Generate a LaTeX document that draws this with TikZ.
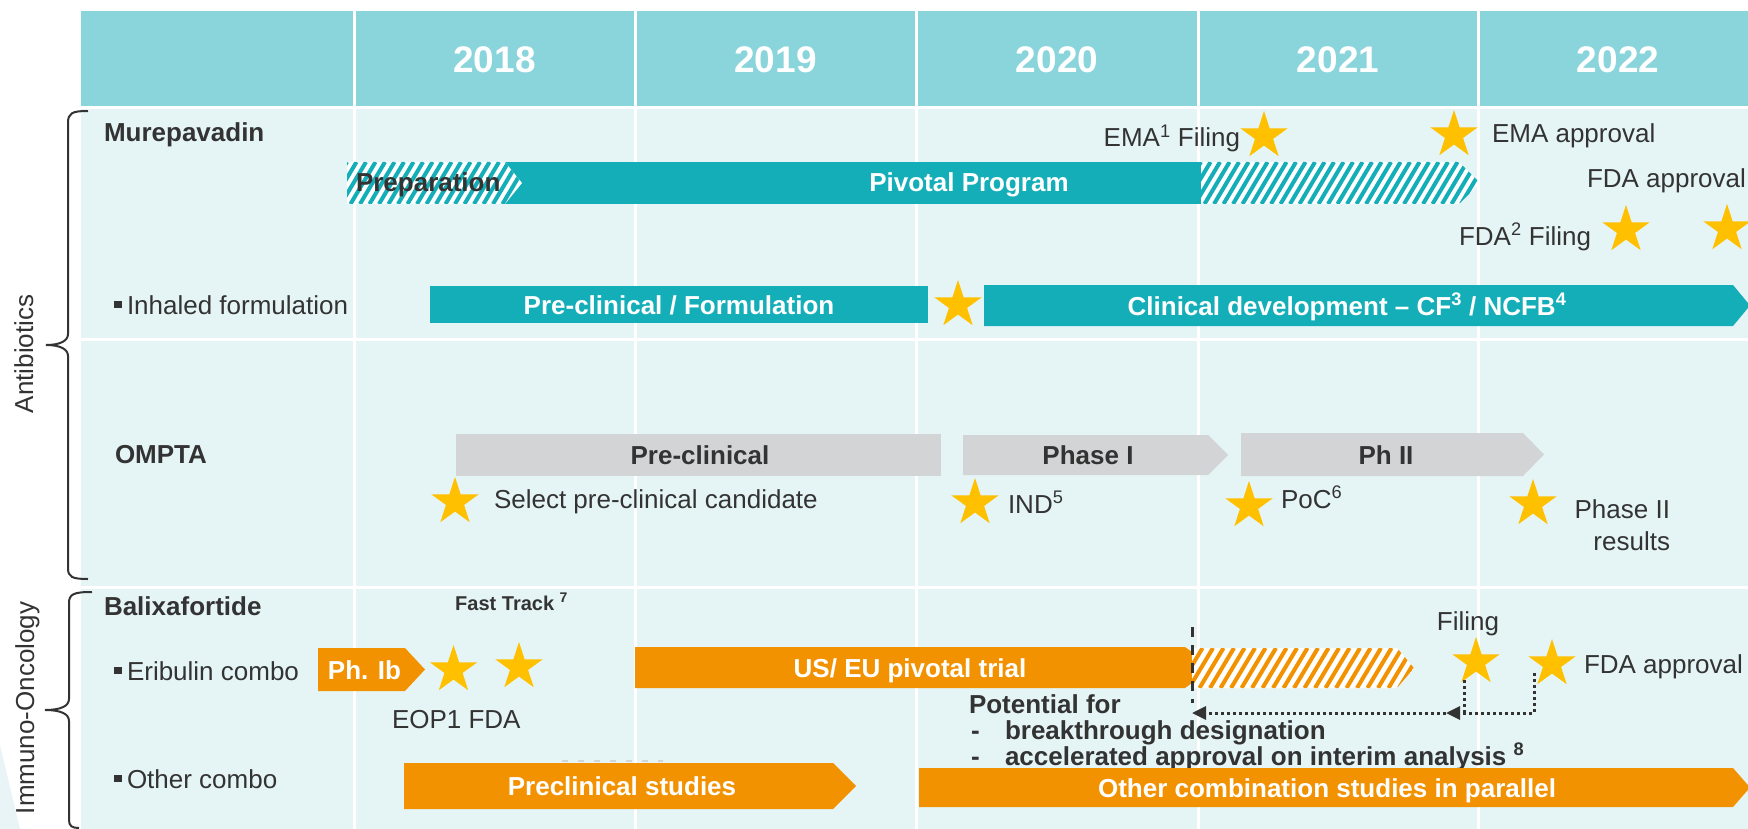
\documentclass[tikz,border=0pt]{standalone}
\usepackage{fontspec}
\setmainfont{Liberation Sans}
\usetikzlibrary{shapes.geometric,arrows.meta}
\definecolor{hdr}{HTML}{89D5DB}
\definecolor{bodybg}{HTML}{E5F5F6}
\definecolor{tealbar}{HTML}{14AEB9}
\definecolor{graybar}{HTML}{D3D4D6}
\definecolor{orangebar}{HTML}{F39200}
\definecolor{gold}{HTML}{FFC000}
\definecolor{dk}{HTML}{333333}
\definecolor{faint}{HTML}{E9F4F7}
\tikzset{
 txt/.style={inner sep=0pt, outer sep=0pt, text=dk, font=\fontsize{26}{30}\selectfont},
 txtb/.style={inner sep=0pt, outer sep=0pt, text=dk, font=\fontsize{26}{30}\selectfont\bfseries},
 bartxt/.style={inner sep=0pt, text=white, font=\fontsize{26}{30}\selectfont\bfseries, anchor=base},
 graytxt/.style={inner sep=0pt, text=dk, font=\fontsize{26}{30}\selectfont\bfseries, anchor=base},
 yeartxt/.style={inner sep=0pt, text=white, font=\fontsize{37}{40}\selectfont\bfseries, anchor=base},
 mstar/.style={star, star points=5, star point ratio=2.618, minimum size=50pt, inner sep=0pt, fill=gold, draw=none},
 sepline/.style={white, line width=3pt},
 bracestyle/.style={dk, line width=2pt},
 dotline/.style={dk, line width=3pt, dash pattern=on 3pt off 3pt},
 tipstyle/.style={-{Triangle[length=14pt,width=13pt]}},
}
\begin{document}
\begin{tikzpicture}[x=1pt,y=-1pt]
\useasboundingbox (0,0) rectangle (1748,829);
% backgrounds
\fill[faint] (0,745) -- (20,829) -- (0,829) -- cycle;
\fill[hdr] (81,11) rectangle (1748,107);
\fill[bodybg] (81,107) rectangle (1748,829);
\foreach \xx in {354,635,916,1198,1478} \draw[sepline] (\xx,11) -- (\xx,829);
\foreach \yy in {108,339,587} \draw[sepline] (81,\yy) -- (1748,\yy);
% years
\node[yeartxt] (y2018) at (494.5,73) {2018};
\node[yeartxt] (y2019) at (775.5,73) {2019};
\node[yeartxt] (y2020) at (1057,73) {2020};
\node[yeartxt] (y2021) at (1338,73) {2021};
\node[yeartxt] (y2022) at (1618,73) {2022};
% braces and group labels
\draw[bracestyle] (88,111) .. controls (72,111) and (68,113) .. (68,123) -- (68,334)
  .. controls (68,341) and (60,345) .. (46,345) .. controls (60,345) and (68,349) .. (68,356)
  -- (68,568) .. controls (68,577) and (72,579) .. (88,579);
\draw[bracestyle] (92,592) .. controls (74,592) and (69,594) .. (69,603) -- (69,699)
  .. controls (69,706) and (61,710) .. (45,710) .. controls (61,710) and (69,714) .. (69,721)
  -- (69,820) .. controls (69,826) and (72,828) .. (79,828);
\node[txt, rotate=90, anchor=base] (antib) at (33,354) {Antibiotics};
\node[txt, rotate=90, anchor=base] (immuno) at (34,708) {Immuno-Oncology};
% ---------------- Murepavadin
\node[txtb, anchor=base west] (murep) at (104,142) {Murepavadin};
\fill[tealbar] (474,162) rectangle (1201,204);
\begin{scope}
\clip (347,162) -- (505,162) -- (522,183) -- (505,204) -- (347,204) -- cycle;
\fill[white] (340,155) rectangle (530,210);
\foreach \i in {0,...,24} \draw[tealbar, line width=4pt] ({322+\i*9.5},204) -- ++(25,-42);
\end{scope}
\begin{scope}
\clip (1201,162) -- (1459,162) -- (1480,183) -- (1459,204) -- (1201,204) -- cycle;
\fill[white] (1195,155) rectangle (1490,210);
\foreach \i in {0,...,33} \draw[tealbar, line width=4pt] ({1176+\i*9.5},204) -- ++(25,-42);
\end{scope}
\node[txtb, anchor=base west] (prep) at (356,192) {Preparation};
\node[bartxt] (pivotal) at (969,192) {Pivotal Program};
\node[txt, anchor=base east] (emafil) at (1240,147) {EMA\textsuperscript{1} Filing};
\node[mstar] (sEMAf) at (1264,136) {};
\node[mstar] (sEMAa) at (1454,135) {};
\node[txt, anchor=base west] (emaapp) at (1492,143) {EMA approval};
\node[txt, anchor=base west] (fdaapp) at (1587,188) {FDA approval};
\node[txt, anchor=base west] (fdafil) at (1459,245) {FDA\textsuperscript{2} Filing};
\node[mstar] (sFDAf) at (1626,230) {};
\node[mstar] (sFDAa) at (1727,229) {};
% Inhaled formulation
\fill[dk] (114,300.5) rectangle ++(7.5,7.5);
\node[txt, anchor=base west] (inhaled) at (127,314) {Inhaled formulation};
\fill[tealbar] (430,286) rectangle (928,323);
\node[bartxt] (preform) at (679,314) {Pre-clinical / Formulation};
\node[mstar] (sInh) at (958,305) {};
\fill[tealbar] (984,285) -- (1733,285) -- (1750,305.5) -- (1733,326) -- (984,326) -- cycle;
\node[bartxt] (clindev) at (1347,315) {Clinical development -- CF\textsuperscript{3} / NCFB\textsuperscript{4}};
% ---------------- OMPTA
\node[txtb, anchor=base west] (ompta) at (115,463) {OMPTA};
\fill[graybar] (456,434) rectangle (941,476);
\node[graytxt] (omprecl) at (700,464.5) {Pre-clinical};
\fill[graybar] (963,435) -- (1208,435) -- (1228,455) -- (1208,475) -- (963,475) -- cycle;
\node[graytxt] (ph1) at (1088,464) {Phase I};
\fill[graybar] (1241,433) -- (1523,433) -- (1544,454.5) -- (1523,476) -- (1241,476) -- cycle;
\node[graytxt] (ph2) at (1386,464) {Ph II};
\node[mstar] (sSel) at (455,502) {};
\node[txt, anchor=base west] (selcand) at (494,508) {Select pre-clinical candidate};
\node[mstar] (sIND) at (975,503) {};
\node[txt, anchor=base west] (ind) at (1008,513) {IND\textsuperscript{5}};
\node[mstar] (sPoC) at (1249,506) {};
\node[txt, anchor=base west] (poc) at (1281,508) {PoC\textsuperscript{6}};
\node[mstar] (sPh2) at (1533,504) {};
\node[txt, anchor=base east] (ph2res1) at (1670,518) {Phase II};
\node[txt, anchor=base east] (ph2res2) at (1670,550) {results};
% ---------------- Balixafortide
\node[txtb, anchor=base west] (balix) at (104,615) {Balixafortide};
\node[inner sep=0pt, text=dk, font=\fontsize{20}{24}\selectfont\bfseries, anchor=base west] (fast) at (455,610) {Fast Track \textsuperscript{7}};
\fill[dk] (114,666.5) rectangle ++(7.5,7.5);
\node[txt, anchor=base west] (erib) at (127,680) {Eribulin combo};
\fill[orangebar] (318,648) -- (405,648) -- (425,669.5) -- (405,691) -- (318,691) -- cycle;
\node[bartxt] (ph1b) at (364.5,679) {Ph. Ib};
\node[mstar] (sEOP1) at (453.5,670) {};
\node[mstar] (sFast) at (519,667) {};
\node[txt, anchor=base west] (eop) at (392,728) {EOP1 FDA};
\fill[orangebar] (635,647) -- (1185,647) -- (1192,652) -- (1192,683) -- (1185,688) -- (635,688) -- cycle;
\node[bartxt] (useu) at (910,677) {US/ EU pivotal trial};
\begin{scope}
\clip (1192,648) -- (1397,648) -- (1414,668) -- (1397,688) -- (1192,688) -- cycle;
\fill[white] (1185,640) rectangle (1420,695);
\foreach \i in {0,...,24} \draw[orangebar, line width=4pt] ({1168+\i*10.5},688) -- ++(24,-40);
\end{scope}
\coordinate (dashtop) at (1192,627);
\coordinate (dashbot) at (1192,703);
\draw[dk, line width=3pt, dash pattern=on 10pt off 8pt] (dashtop) -- (dashbot);
\node[txt, anchor=base] (filing) at (1468,630) {Filing};
\node[mstar] (sFil) at (1476,662) {};
\node[mstar] (sFDA2) at (1552,664) {};
\node[txt, anchor=base west] (fdaapp2) at (1584,673) {FDA approval};
\coordinate (faA) at (1534,673);
\coordinate (faB) at (1534,713);
\coordinate (tipA) at (1446,713);
\coordinate (fiA) at (1464,680);
\coordinate (fiB) at (1464,713);
\coordinate (tipB) at (1192,713);
\draw[dotline] (fiA) -- (fiB);
\draw[dotline, tipstyle] (faA) -- (faB) -- (tipA);
\draw[dotline, tipstyle] (tipA) -- (tipB);
\node[txtb, anchor=base west] (potential) at (969,713) {Potential for};
\node[txtb, anchor=base west] (dash1) at (971,739) {-};
\node[txtb, anchor=base west] (bt) at (1005,739) {breakthrough designation};
\node[txtb, anchor=base west] (dash2) at (971,765) {-};
\node[txtb, anchor=base west] (acc) at (1005,765) {accelerated approval on interim analysis \textsuperscript{8}};
% Other combo
\fill[dk] (114,774.5) rectangle ++(7.5,7.5);
\node[txt, anchor=base west] (other) at (127,788) {Other combo};
\draw[graybar, line width=1.5pt, dash pattern=on 6pt off 10pt] (562,761) -- (663,761);
\fill[orangebar] (404,763) -- (833,763) -- (856,786) -- (833,809) -- (404,809) -- cycle;
\node[bartxt] (precstud) at (622,795) {Preclinical studies};
\fill[orangebar] (919,768) -- (1733,768) -- (1750,787.5) -- (1733,807) -- (919,807) -- cycle;
\node[bartxt] (othercomb) at (1327,797) {Other combination studies in parallel};
\end{tikzpicture}
\end{document}
